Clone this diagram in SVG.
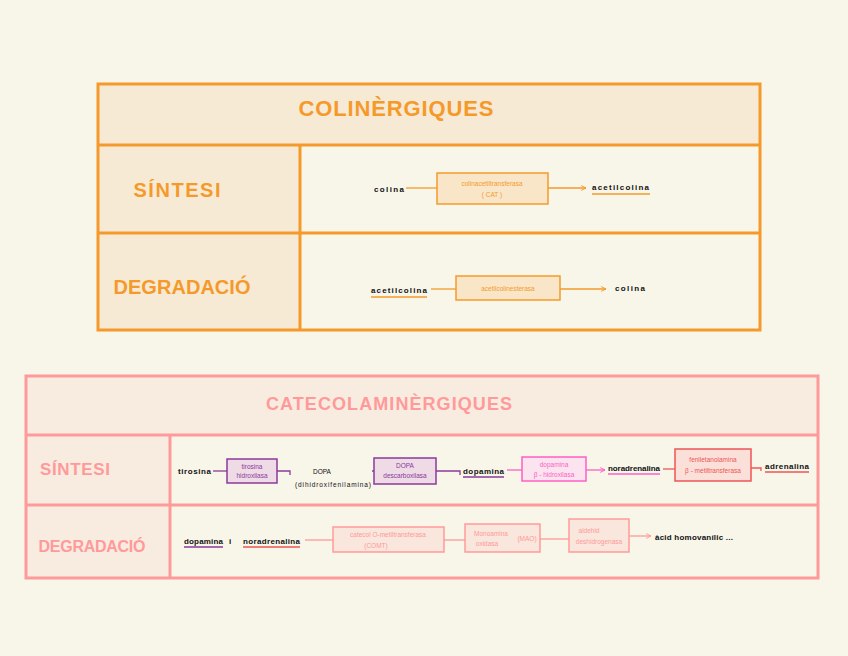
<svg xmlns="http://www.w3.org/2000/svg" width="848" height="656" viewBox="0 0 848 656">
<defs>
<marker id="ao" viewBox="0 0 10 10" refX="9" refY="5" markerWidth="6" markerHeight="6" orient="auto" markerUnits="userSpaceOnUse"><path d="M1,1 L9,5 L1,9" fill="none" stroke="#f59a2a" stroke-width="1.6"/></marker>
<marker id="am" viewBox="0 0 10 10" refX="9" refY="5" markerWidth="6" markerHeight="6" orient="auto" markerUnits="userSpaceOnUse"><path d="M1,1 L9,5 L1,9" fill="none" stroke="#ff5fc4" stroke-width="1.6"/></marker>
<marker id="ar" viewBox="0 0 10 10" refX="9" refY="5" markerWidth="6" markerHeight="6" orient="auto" markerUnits="userSpaceOnUse"><path d="M1,1 L9,5 L1,9" fill="none" stroke="#ee5555" stroke-width="1.6"/></marker>
<marker id="ap" viewBox="0 0 10 10" refX="9" refY="5" markerWidth="6" markerHeight="6" orient="auto" markerUnits="userSpaceOnUse"><path d="M1,1 L9,5 L1,9" fill="none" stroke="#ff9a9a" stroke-width="1.6"/></marker>
</defs>
<style>
.title{font-family:"Liberation Sans",Arial,sans-serif;font-weight:bold;text-anchor:middle}
.t{font-family:"Liberation Sans",Arial,sans-serif;font-size:8px;fill:#111;font-weight:bold}
.s{font-family:"Liberation Sans",Arial,sans-serif;font-size:6.5px;text-anchor:middle}
.oc{stroke:#f59a2a;stroke-width:3;fill:none}
.pc{stroke:#ff9a9a;stroke-width:3;fill:none}
.ol{stroke:#f59a2a;stroke-width:1.3;fill:none}
.pl{stroke:#ff9a9a;stroke-width:1.3;fill:none}
.vl{stroke:#8b3a9a;stroke-width:1.3;fill:none}
.ml{stroke:#ff5fc4;stroke-width:1.3;fill:none}
.rl{stroke:#ee5555;stroke-width:1.3;fill:none}
</style>
<rect width="848" height="656" fill="#f8f5e9"/>

<!-- Colinergiques table -->
<g id="colinergiques-table">
<rect x="98" y="84" width="662" height="60" fill="#f6ead4"/>
<rect x="98" y="144" width="202" height="186" fill="#f6ead4"/>
<rect x="98" y="84" width="662" height="246" class="oc"/>
<line x1="98" y1="145" x2="760" y2="145" class="oc"/>
<line x1="98" y1="233" x2="760" y2="233" class="oc"/>
<line x1="300" y1="145" x2="300" y2="330" class="oc"/>
<text x="396" y="116" class="title" font-size="22" fill="#f59a2a" textLength="195">COLINÈRGIQUES</text>
<text x="177" y="197" class="title" font-size="20" fill="#f59a2a" textLength="87">SÍNTESI</text>
<text x="182" y="294" class="title" font-size="20" fill="#f59a2a" textLength="137">DEGRADACIÓ</text>
</g>

<g id="c-colina1"><text x="374" y="192" class="t" textLength="30">colina</text></g>
<g id="c-cat">
<rect x="437" y="173" width="111" height="31" fill="#f9e6c8" stroke="#f59a2a" stroke-width="1.5"/>
<text x="492" y="186" class="s" fill="#f59a2a">colinacetiltransferasa</text>
<text x="492" y="197" class="s" fill="#f59a2a">( CAT )</text>
</g>
<g id="c-acetilcolina1"><text x="592" y="190" class="t" textLength="57">acetilcolina</text>
<line x1="592" y1="194" x2="650" y2="194" stroke="#f59a2a" stroke-width="1.5"/></g>
<g id="c-acetilcolina2"><text x="371" y="293" class="t" textLength="56">acetilcolina</text>
<line x1="371" y1="297" x2="427" y2="297" stroke="#f59a2a" stroke-width="1.5"/></g>
<g id="c-ache">
<rect x="456" y="276" width="104" height="24" fill="#f9e6c8" stroke="#f59a2a" stroke-width="1.5"/>
<text x="508" y="291" class="s" fill="#f59a2a">acetilcolinesterasa</text>
</g>
<g id="c-colina2"><text x="615" y="291" class="t" textLength="30">colina</text></g>

<!-- Catecolaminergiques table -->
<g id="catecol-table">
<rect x="26" y="376" width="792" height="58" fill="#f8ebe0"/>
<rect x="26" y="434" width="144" height="144" fill="#f8ebe0"/>
<rect x="26" y="376" width="792" height="202" class="pc"/>
<line x1="26" y1="435" x2="818" y2="435" class="pc"/>
<line x1="26" y1="505" x2="818" y2="505" class="pc"/>
<line x1="170" y1="435" x2="170" y2="578" class="pc"/>
<text x="389" y="410" class="title" font-size="18" fill="#ff9a9a" textLength="246">CATECOLAMINÈRGIQUES</text>
<text x="75" y="475" class="title" font-size="17" fill="#ff9a9a" textLength="70">SÍNTESI</text>
<text x="92" y="552" class="title" font-size="16" fill="#ff9a9a" textLength="107">DEGRADACIÓ</text>
</g>

<g id="k-tirosina"><text x="178" y="474" class="t" textLength="33">tirosina</text></g>
<g id="k-th">
<rect x="227" y="459" width="50" height="24" fill="#eedbe6" stroke="#8b3a9a" stroke-width="1.5"/>
<text x="252" y="469" class="s" fill="#8b3a9a">tirosina</text>
<text x="252" y="478" class="s" fill="#8b3a9a">hidroxilasa</text>
</g>
<g id="k-dopa">
<text x="322" y="474" class="s" fill="#111" font-size="7">DOPA</text>
<text x="333" y="487" class="s" fill="#111" font-size="7" textLength="76">(dihidroxifenilamina)</text>
</g>
<g id="k-ddc">
<rect x="374" y="458" width="62" height="26" fill="#eedbe6" stroke="#8b3a9a" stroke-width="1.5"/>
<text x="405" y="468" class="s" fill="#8b3a9a">DOPA</text>
<text x="405" y="478" class="s" fill="#8b3a9a">descarboxilasa</text>
</g>
<g id="k-dopamina"><text x="463" y="474" class="t" textLength="41">dopamina</text>
<line x1="463" y1="477" x2="504" y2="477" stroke="#8b3a9a" stroke-width="1.5"/></g>
<g id="k-dbh">
<rect x="522" y="457" width="64" height="24" fill="#fbe3ef" stroke="#ff5fc4" stroke-width="1.5"/>
<text x="554" y="467" class="s" fill="#ff5fc4">dopamina</text>
<text x="554" y="477" class="s" fill="#ff5fc4">β - hidroxilasa</text>
</g>
<g id="k-noradrenalina"><text x="608" y="471" class="t" textLength="52">noradrenalina</text>
<line x1="608" y1="474" x2="660" y2="474" stroke="#ff5fc4" stroke-width="1.5"/></g>
<g id="k-pnmt">
<rect x="675" y="449" width="76" height="32" fill="#fbe0da" stroke="#ee5555" stroke-width="1.5"/>
<text x="713" y="462" class="s" fill="#ee5555">feniletanolamina</text>
<text x="713" y="473" class="s" fill="#ee5555">β - metiltransferasa</text>
</g>
<g id="k-adrenalina"><text x="765" y="469" class="t" textLength="44">adrenalina</text>
<line x1="765" y1="472" x2="809" y2="472" stroke="#ee5555" stroke-width="1.5"/></g>

<g id="k-deg-sub"><text x="184" y="544" class="t" textLength="39">dopamina</text>
<line x1="184" y1="547" x2="223" y2="547" stroke="#8b3a9a" stroke-width="1.5"/>
<text x="229" y="544" class="t">i</text>
<text x="243" y="544" class="t" textLength="57">noradrenalina</text>
<line x1="243" y1="547" x2="300" y2="547" stroke="#ee5555" stroke-width="1.5"/></g>
<g id="k-comt">
<rect x="333" y="527" width="111" height="25" fill="#f9e6dc" stroke="#ff9a9a" stroke-width="1.5"/>
<text x="388" y="537" class="s" fill="#ff9a9a">catecol O-metiltransferasa</text>
<text x="376" y="548" class="s" fill="#ff9a9a">(COMT)</text>
</g>
<g id="k-mao">
<rect x="465" y="524" width="75" height="28" fill="#f9e6dc" stroke="#ff9a9a" stroke-width="1.5"/>
<text x="491" y="536" class="s" fill="#ff9a9a">Monoamina</text>
<text x="487" y="546" class="s" fill="#ff9a9a">oxidasa</text>
<text x="527" y="541" class="s" fill="#ff9a9a">(MAO)</text>
</g>
<g id="k-aldh">
<rect x="569" y="519" width="60" height="33" fill="#f9e6dc" stroke="#ff9a9a" stroke-width="1.5"/>
<text x="589" y="533" class="s" fill="#ff9a9a">aldehid</text>
<text x="599" y="544" class="s" fill="#ff9a9a">deshidrogenasa</text>
</g>
<g id="k-hva"><text x="655" y="540" class="t" textLength="78">àcid homovanílic ...</text></g>

<g id="connectors">
<line x1="406" y1="188" x2="437" y2="188" class="ol"/>
<line x1="548" y1="188" x2="586" y2="188" class="ol" marker-end="url(#ao)"/>
<line x1="431" y1="289" x2="456" y2="289" class="ol"/>
<line x1="560" y1="289" x2="606" y2="289" class="ol" marker-end="url(#ao)"/>

<line x1="213" y1="471" x2="227" y2="471" class="vl"/>
<path d="M277,471 H290 V475" class="vl"/>
<line x1="372" y1="471" x2="374" y2="471" class="vl"/>
<path d="M436,471 H460 V475" class="vl"/>
<line x1="507" y1="470" x2="522" y2="470" class="ml"/>
<line x1="586" y1="470" x2="605" y2="470" class="ml" marker-end="url(#am)"/>
<line x1="663" y1="469" x2="675" y2="469" class="rl"/>
<path d="M751,468 H761 V471" class="rl"/>

<line x1="305" y1="540" x2="333" y2="540" class="pl"/>
<line x1="444" y1="540" x2="465" y2="540" class="pl"/>
<line x1="540" y1="539" x2="569" y2="539" class="pl"/>
<line x1="629" y1="536" x2="651" y2="536" class="pl" marker-end="url(#ap)"/>
</g>
</svg>
